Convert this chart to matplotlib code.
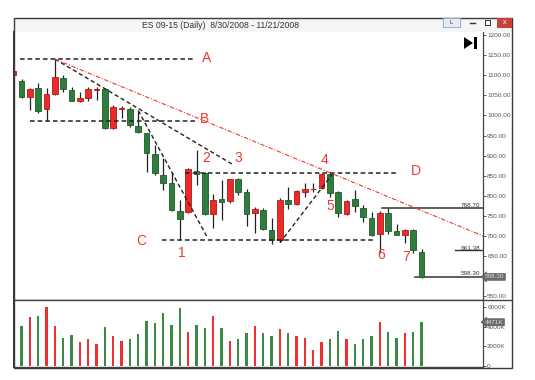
import matplotlib
matplotlib.use("Agg")
import matplotlib.pyplot as plt
import numpy as np
from matplotlib.patches import Rectangle, Polygon
from matplotlib.transforms import blended_transform_factory

# daily bars, index -1 is the partially visible bar at the left edge
opens = [1100, 1086, 1047, 1067, 1017, 1053, 1092, 1063, 1037, 1043, 1064,
         1066, 968, 1017, 1016, 974, 955, 904, 853, 831, 763,
         760, 862, 856, 755, 791, 788, 843, 810, 756, 765,
         715, 689, 790, 779, 810, 816, 820, 855, 809, 755,
         791, 769, 744, 705, 758, 713, 702, 716, 661]
highs = [1114, 1090, 1068, 1080, 1067, 1140, 1100, 1070, 1059, 1071, 1070,
         1069, 1025, 1024, 1022, 1012, 957, 926, 893, 860, 790,
         870, 914, 860, 805, 839, 843, 845, 818, 773, 769,
         744, 794, 823, 815, 833, 831, 856, 858, 812, 790,
         814, 777, 760, 762, 768.7, 731, 718, 718, 667]
lows = [1096, 1044, 1013, 1007, 987, 1052, 1057, 1036, 1034, 1037, 1038,
        965, 965, 993, 970, 957, 860, 852, 814, 761, 690,
        758, 826, 752, 719, 740, 781, 802, 725, 708, 715,
        680, 686, 766, 776, 796, 810, 817, 798, 748, 752,
        760, 736, 700, 660, 704, 702, 682, 657, 595]
closes = [1110, 1047, 1066, 1011, 1053, 1096, 1065, 1037, 1043, 1065, 1065.5,
          969, 1021, 1018, 976, 958, 906, 856, 833, 765, 742,
          867, 854, 755, 790, 785, 841, 810, 755, 767, 717,
          690, 790, 780, 812, 817, 818, 854, 806, 757, 788,
          775, 747, 702, 757, 713, 702, 716, 665, 598.3]
volumes_k = [2640, 4082, 4966, 5102, 6054, 4082, 2857, 3197, 2449, 2789, 2279,
             3980, 3027, 2551, 2789, 3265, 4558, 4354, 5374, 4218, 5918,
             3435, 4184, 3878, 5136, 3878, 2517, 2721, 3367, 4116, 3367,
             3027, 3810, 3333, 3027, 2857, 1599, 2415, 2789, 3571, 2789,
             2245, 2755, 3061, 4490, 3435, 2857, 3367, 3469, 4471]

price_ticks = [1200, 1150, 1100, 1050, 1000, 950, 900, 850, 800, 750, 700, 650, 600, 550]
# the 600.00 label sits under the last-price box in the reference
price_tick_labels = [f"{t:.2f}" if t != 600 else "" for t in price_ticks]
volume_ticks = [0, 2000, 4000, 6000]
volume_tick_labels = ["0", "2000K", "4000K", "6000K"]

# horizontal levels: (label, price, x_start, x_end, label_x, label_y)
levels = [
    ("A", 1140, -0.2, 20.8, 22.2, 1143),
    ("B", 987, 1.0, 20.8, 22.0, 990),
    ("C", 690, 16.9, 42.4, 14.3, 687),
    ("D", 857, 19.6, 45.2, 47.3, 862),
]
# dashed trend lines ((x0, y0), (x1, y1)) in bar index / price
trend_lines = [
    ((4.0, 1140), (25.25, 879)),
    ((14.0, 1012), (22.2, 700)),
    ((31.0, 683), (37.3, 854)),
]
red_line = ((4.0, 1140), (55.4, 700))
swing_labels = ["1", "2", "3", "4", "5", "6", "7"]
swing_x = [19.2, 22.1, 26.0, 36.4, 37.1, 43.2, 46.2]
swing_y = [658, 894, 894, 890, 775, 653, 649]
price_marks = [("768.70", 768.7, 43.2), ("661.38", 661.38, 52.0), ("598.30", 598.3, 47.2)]

GREEN = "#2f7d3c"
RED = "#ec2a2a"
W, H = 535, 380


def fx(px):
    return px / W


def fy(py):
    return 1 - py / H


fig = plt.figure(figsize=(W / 100, H / 100), dpi=100)
plt.rcParams["font.family"] = ["Liberation Sans", "DejaVu Sans"]

price_ax = fig.add_axes([fx(14), fy(300), fx(483) - fx(14), fy(32) - fy(300)])
vol_ax = fig.add_axes([fx(14), fy(367), fx(483) - fx(14), fy(300) - fy(367)], sharex=price_ax)

idx = np.arange(-1, len(opens) - 1)
o = np.array(opens, dtype=float)
h = np.array(highs, dtype=float)
l = np.array(lows, dtype=float)
c = np.array(closes, dtype=float)
up = c >= o
colors = np.where(up, RED, GREEN)
edges = np.where(up, "#b01818", "#1f5a29")

price_ax.vlines(idx, l, h, color="#222222", linewidth=0.9, zorder=2)
body_bottom = np.minimum(o, c)
body_height = np.maximum(np.abs(c - o), 1.5)
price_ax.bar(idx, body_height, bottom=body_bottom, width=0.68, color=colors,
             edgecolor=edges, linewidth=0.6, zorder=3)

for name, price, x0, x1, lx, ly in levels:
    price_ax.plot([x0, x1], [price, price], color="#222222", linestyle=(0, (3, 2)),
                  linewidth=1.1, zorder=4)
    price_ax.text(lx, ly, name, color="#f03a2e", fontsize=10, ha="center", va="center")

for (x0, y0), (x1, y1) in trend_lines:
    price_ax.plot([x0, x1], [y0, y1], color="#222222", linestyle=(0, (3, 2)),
                  linewidth=1.0, zorder=4)

price_ax.plot([red_line[0][0], red_line[1][0]], [red_line[0][1], red_line[1][1]],
              color="#f03a2e", linestyle=(0, (4, 1.5, 1, 1.5)), linewidth=0.8, zorder=4)

for label, x, y in zip(swing_labels, swing_x, swing_y):
    price_ax.text(x, y, label, color="#f03a2e", fontsize=10, ha="center", va="center")

axis_trans = blended_transform_factory(price_ax.transAxes, price_ax.transData)
for text, price, x0 in price_marks:
    if text == "661.38":
        price_ax.plot([x0, 55.4], [price + 4, price + 4], color="#333333", linewidth=1.0)
    else:
        price_ax.plot([x0, 55.4], [price, price], color="#333333", linewidth=1.1)
    price_ax.text(0.995, price + 2, text, transform=axis_trans, ha="right", va="bottom",
                  fontsize=4.6, color="#333333")
price_ax.text(1.004, 598.3, "598.30", transform=axis_trans, ha="left", va="center",
              fontsize=4.6, color="#dddddd",
              bbox=dict(boxstyle="larrow,pad=0.15", fc="#6b6b6b", ec="#555555", lw=0.4))

vol_colors = np.where(up, "#f03030", "#3a8a46")
vol_ax.bar(idx, volumes_k, width=0.28, color=vol_colors, zorder=2)
vol_trans = blended_transform_factory(vol_ax.transAxes, vol_ax.transData)
vol_ax.text(1.004, volumes_k[-1], "4471K", transform=vol_trans, ha="left", va="center",
            fontsize=4.6, color="#dddddd",
            bbox=dict(boxstyle="larrow,pad=0.15", fc="#6b6b6b", ec="#555555", lw=0.4))

price_ax.set_xlim(-0.92, 55.38)
price_ax.set_ylim(540.8, 1207.5)
vol_ax.set_ylim(-100, 6735)

for ax in (price_ax, vol_ax):
    ax.set_facecolor("white")
    ax.yaxis.tick_right()
    ax.tick_params(axis="y", direction="out", length=2, width=0.6, pad=1,
                   labelsize=4.6, labelcolor="#555555", color="#444444")
    ax.tick_params(axis="x", bottom=False, labelbottom=False)
    ax.spines["top"].set_visible(False)
    ax.spines["right"].set_color("#444444")
    ax.spines["right"].set_linewidth(0.9)
    ax.spines["left"].set_color("#333333")
    ax.spines["left"].set_linewidth(1.4)
    ax.spines["bottom"].set_color("#444444")
    ax.spines["bottom"].set_linewidth(1.0)

price_ax.set_yticks(price_ticks)
price_ax.set_yticklabels(price_tick_labels)
vol_ax.set_yticks(volume_ticks)
vol_ax.set_yticklabels(volume_tick_labels)

# window chrome in pixel coordinates
chrome = fig.add_axes([0, 0, 1, 1], zorder=10)
chrome.set_xlim(0, W)
chrome.set_ylim(H, 0)
chrome.axis("off")
chrome.patch.set_visible(False)
chrome.add_patch(Rectangle((14, 18), 498, 14, fc="#f5f5f5", ec="none", zorder=0))
chrome.add_patch(Rectangle((14, 18), 498, 350, fc="none", ec="#3a3a3a", lw=1.0))
chrome.plot([14, 512], [300, 300], color="#444444", linewidth=1.0)
chrome.text(221, 25, "ES 09-15 (Daily)  8/30/2008 - 11/21/2008", fontsize=6.2,
            color="#333333", ha="center", va="center")
chrome.add_patch(Rectangle((443, 18), 17, 9, fc="#e4ebf3", ec="#8fa6bd", lw=0.6))
chrome.text(451.5, 22.5, "L", fontsize=4.5, color="#333333", ha="center", va="center")
chrome.plot([470, 475], [23, 23], color="#333333", linewidth=1.0)
chrome.add_patch(Rectangle((485, 19.5), 5, 5, fc="none", ec="#333333", lw=0.7))
chrome.add_patch(Rectangle((497, 18), 15, 10, fc="#c9413c", ec="none"))
chrome.text(504.5, 23, "x", fontsize=5, color="white", ha="center", va="center")
chrome.add_patch(Polygon([(464, 37), (464, 49), (473, 43)], closed=True, fc="black", ec="none"))
chrome.add_patch(Rectangle((474, 37), 3, 12, fc="black", ec="none"))

fig.savefig("out.png", dpi=100, facecolor="white")
